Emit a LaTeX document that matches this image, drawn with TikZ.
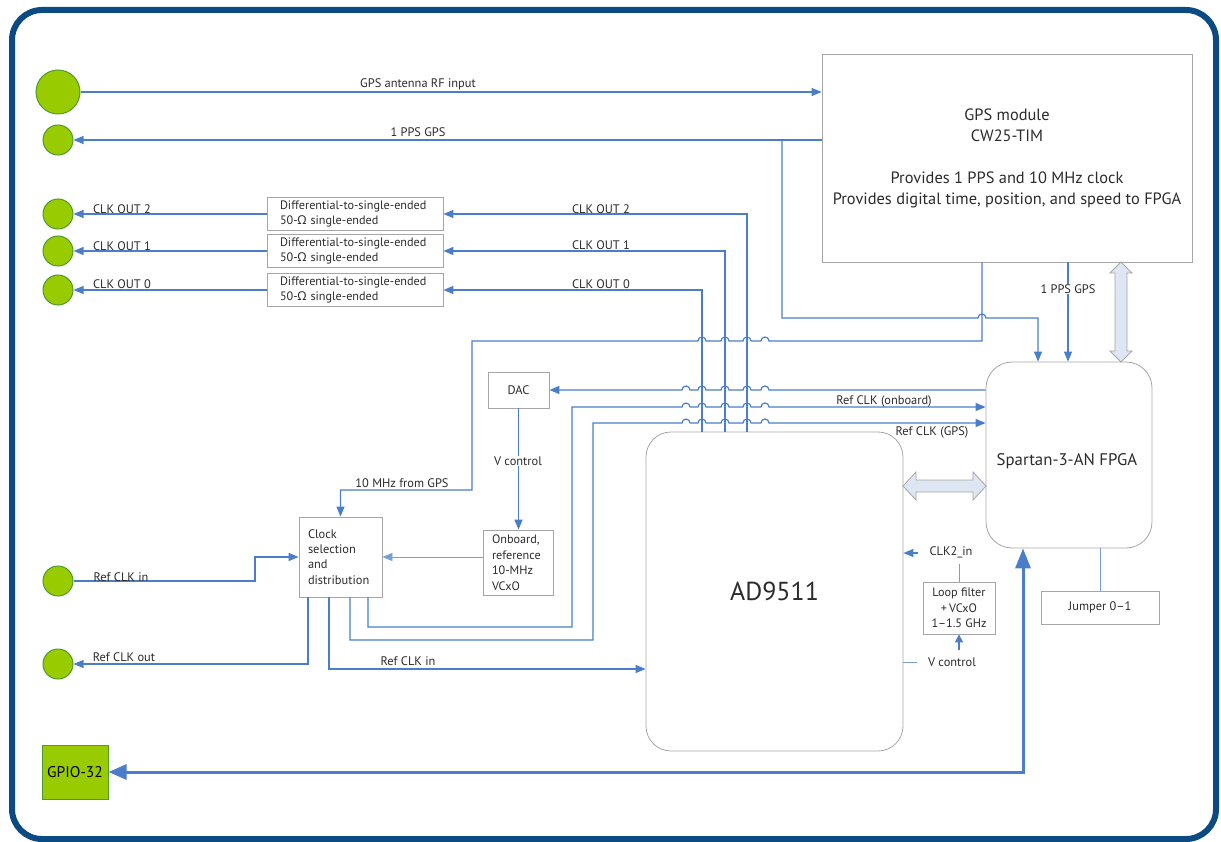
\documentclass[tikz,border=0pt]{standalone}
\usepackage{fontspec}
\setmainfont{PT Sans}
\newfontfamily\gkfont{Noto Sans}
\usetikzlibrary{arrows.meta,calc}
\definecolor{frameblue}{HTML}{0B4A82}
\definecolor{lineblue}{HTML}{4A7EC8}
\definecolor{gfill}{HTML}{99CC00}
\definecolor{gdraw}{HTML}{4E9A2E}
\definecolor{boxgray}{HTML}{A6A6A6}
\definecolor{dafill}{HTML}{DDE6F2}
\definecolor{txt}{HTML}{2B2B2B}
\begin{document}
\begin{tikzpicture}[x=1pt,y=-1pt,
  font=\fontsize{12.4}{14}\selectfont,
  lab/.style={text=txt, inner sep=1pt},
  labw/.style={lab, fill=white},
  box/.style={draw=boxgray, line width=0.8pt, text=txt, inner sep=0pt},
  jack/.style={circle, fill=gfill, draw=gdraw, line width=1pt, inner sep=0pt},
  wire/.style={draw=lineblue, line width=1.2pt},
  thinwire/.style={draw=lineblue!75, line width=0.8pt},
  arr/.style={-{Triangle[length=10pt,width=8pt]}},
  hollow/.style={fill=dafill, draw=boxgray, line width=0.8pt}
]
\useasboundingbox (0,0) rectangle (1221,842);
\draw[frameblue, line width=6pt, rounded corners=30pt] (12,10) rectangle (1216,839);

% connectors (jacks)
\node[jack, minimum size=44pt] (ant) at (58,92) {};
\node[jack, minimum size=30pt] (pps) at (58,140) {};
\node[jack, minimum size=30pt] (co2) at (58,214) {};
\node[jack, minimum size=30pt] (co1) at (58,251) {};
\node[jack, minimum size=30pt] (co0) at (58,290) {};
\node[jack, minimum size=30pt] (rin) at (58,581) {};
\node[jack, minimum size=30pt] (rout) at (58,664) {};
\node[fill=gfill, draw=gdraw, line width=1pt, minimum width=66pt, minimum height=54pt, inner sep=0pt, font=\fontsize{15.5}{15.5}\selectfont, text=black] (gpio) at (75,772) {GPIO-32};

% boxes
\node[box, minimum width=370pt, minimum height=208pt, align=center, font=\fontsize{16.4}{21}\selectfont] (gps) at (1007,158) {GPS module\\CW25-TIM\\[21pt]Provides 1 PPS and 10 MHz clock\\Provides digital time, position, and speed to FPGA};
\node[box, minimum width=176pt, minimum height=33pt, text width=150pt, align=left, font=\fontsize{12.2}{15}\selectfont] (d2) at (355,214) {Differential-to-single-ended\\50-{\gkfont Ω} single-ended};
\node[box, minimum width=176pt, minimum height=33pt, text width=150pt, align=left, font=\fontsize{12.2}{15}\selectfont] (d1) at (355,251) {Differential-to-single-ended\\50-{\gkfont Ω} single-ended};
\node[box, minimum width=176pt, minimum height=33pt, text width=150pt, align=left, font=\fontsize{12.2}{15}\selectfont] (d0) at (355,290) {Differential-to-single-ended\\50-{\gkfont Ω} single-ended};
\node[box, minimum width=83pt, minimum height=80pt, text width=65pt, align=left, font=\fontsize{12.4}{15.3}\selectfont] (cs) at (340.5,557) {Clock\\selection\\and\\distribution};
\node[box, minimum width=70pt, minimum height=65pt, text width=52pt, align=left, font=\fontsize{12.2}{15.5}\selectfont] (vco) at (518,562.5) {Onboard,\\reference\\10-MHz\\VCxO};
\node[box, minimum width=61pt, minimum height=36pt] (dac) at (518.5,390) {DAC};
\node[box, rounded corners=25pt, minimum width=257pt, minimum height=319pt, font=\fontsize{26}{26}\selectfont] (ad) at (774.5,591.5) {AD9511};
\node[box, rounded corners=26pt, minimum width=166pt, minimum height=186pt] (fpga) at (1069,455) {};
\node[lab, font=\fontsize{16.8}{17}\selectfont] (fpgat) at (1067,461) {Spartan-3-AN FPGA};
\node[box, minimum width=118pt, minimum height=33pt] (jmp) at (1100,607.5) {Jumper 0–1};
\node[box, minimum width=72pt, minimum height=52pt, align=center, font=\fontsize{12.2}{15.5}\selectfont] (loop) at (959,608) {Loop filter\\+\,VCxO\\1–1.5 GHz};

% GPS antenna and 1 PPS
\draw[wire, arr] (ant) -- (ant -| gps.west);
\draw[wire, arr] (gps.west |- pps) -- (pps);
\coordinate (pb) at (782,140);
\coordinate (p1) at (1038,318);
\draw[wire, arr] (pb) -- (782,318) -- (978,318) arc[start angle=180,end angle=0,radius=4pt] -- (p1) -- (p1 |- fpga.north);

% 10 MHz from GPS
\coordinate (g10) at (982,341);
\coordinate (m0) at (472,341);
\coordinate (m1) at (472,490);
\draw[wire, arr] (g10 |- gps.south) -- (g10)
  -- (769,341) arc[start angle=0,end angle=180,radius=4pt]
  -- (751,341) arc[start angle=0,end angle=180,radius=4pt]
  -- (729,341) arc[start angle=0,end angle=180,radius=4pt]
  -- (706,341) arc[start angle=0,end angle=180,radius=4pt]
  -- (m0) -- (m1) -- (m1 -| cs.north) -- (cs.north);

% CLK OUT lines
\coordinate (c2) at (747,214);
\coordinate (c1) at (725,251);
\coordinate (c0) at (702,290);
\draw[wire, arr] (c2 |- ad.north) -- (c2) -- (d2.east);
\draw[wire, arr] (c1 |- ad.north) -- (c1) -- (d1.east);
\draw[wire, arr] (c0 |- ad.north) -- (c0) -- (d0.east);
\draw[wire, arr] (d2) -- (co2);
\draw[wire, arr] (d1) -- (co1);
\draw[wire, arr] (d0) -- (co0);

% FPGA -> DAC
\draw[wire, arr] (fpga.west |- dac)
  -- (769,390) arc[start angle=0,end angle=180,radius=4pt]
  -- (751,390) arc[start angle=0,end angle=180,radius=4pt]
  -- (729,390) arc[start angle=0,end angle=180,radius=4pt]
  -- (706,390) arc[start angle=0,end angle=180,radius=4pt]
  -- (690,390) arc[start angle=0,end angle=180,radius=4pt]
  -- (dac.east);

% Ref CLK (onboard)
\coordinate (o1) at (368,627);
\coordinate (o2) at (572,407);
\draw[wire, arr] (o1 |- cs.south) -- (o1) -- (o1 -| o2) -- (o2)
  -- (682,407) arc[start angle=180,end angle=0,radius=4pt]
  -- (698,407) arc[start angle=180,end angle=0,radius=4pt]
  -- (721,407) arc[start angle=180,end angle=0,radius=4pt]
  -- (743,407) arc[start angle=180,end angle=0,radius=4pt]
  -- (761,407) arc[start angle=180,end angle=0,radius=4pt]
  -- (o2 -| fpga.west);

% Ref CLK (GPS)
\coordinate (q1) at (350,640);
\coordinate (q2) at (593,423);
\draw[wire, arr] (q1 |- cs.south) -- (q1) -- (q1 -| q2) -- (q2)
  -- (682,423) arc[start angle=180,end angle=0,radius=4pt]
  -- (698,423) arc[start angle=180,end angle=0,radius=4pt]
  -- (721,423) arc[start angle=180,end angle=0,radius=4pt]
  -- (743,423) arc[start angle=180,end angle=0,radius=4pt]
  -- (761,423) arc[start angle=180,end angle=0,radius=4pt]
  -- (q2 -| fpga.west);

% clock selection in / out
\coordinate (r1) at (308,664);
\coordinate (r2) at (329,669);
\coordinate (r3) at (255,581);
\draw[wire, arr] (r1 |- cs.south) -- (r1) -- (rout);
\draw[wire, arr] (r2 |- cs.south) -- (r2) -- (r2 -| ad.west);
\draw[wire, arr] (rin) -- (r3) -- (r3 |- cs) -- (cs.west);
\draw[thinwire, arr] (vco.west |- cs) -- (cs.east);
\draw[wire, arr] (dac.south) -- (dac.south |- vco.north);

% 1 PPS GPS to FPGA
\coordinate (v1) at (1068,300);
\draw[wire, arr] (v1 |- gps.south) -- (v1 |- fpga.north);

% GPIO bus
\coordinate (gp) at (1023,772);
\draw[line width=3pt, lineblue, {Triangle[length=18pt,width=15pt]}-{Triangle[length=20pt,width=15pt]}] (gpio.east) -- (gp) -- (gp |- fpga.south);

% jumper
\draw[thinwire] (jmp.north) -- (jmp.north |- fpga.south);

% loop filter
\coordinate (lf) at (959,564);
\draw[thinwire] (loop.north) -- (lf);
\coordinate (ck) at (918,553);
\draw[wire, arr] (ck) -- (ck -| ad.east);
\coordinate (vc) at (917,662);
\draw[thinwire] (vc -| ad.east) -- (vc);
\coordinate (va) at (959,650);
\draw[wire, -{Triangle[length=8pt,width=8pt]}] (va) -- (loop.south);

% hollow double arrows
\coordinate (hL) at (903,486);
\coordinate (hR) at (986,486);
\draw[hollow] (hL) -- ++(13,-14) -- ++(0,8) -- ($(hR)+(-13,-6)$) -- ++(0,-8) -- (hR) -- ++(-13,14) -- ++(0,-8) -- ($(hL)+(13,6)$) -- ++(0,8) -- cycle;
\coordinate (vT) at (1121,262);
\coordinate (vB) at (1121,362);
\draw[hollow] (vT) -- ++(11,11) -- ++(-5,0) -- ($(vB)+(6,-11)$) -- ++(5,0) -- (vB) -- ++(-11,-11) -- ++(5,0) -- ($(vT)+(-6,11)$) -- ++(-5,0) -- cycle;

% labels
\node[lab] (l1) at (418,84) {GPS antenna RF input};
\node[lab] (l2) at (418,132) {1 PPS GPS};
\node[lab] (l3) at (122,209) {CLK OUT 2};
\node[lab] (l4) at (122,246) {CLK OUT 1};
\node[lab] (l5) at (122,284) {CLK OUT 0};
\node[lab] (l6) at (601,209) {CLK OUT 2};
\node[lab] (l7) at (601,245) {CLK OUT 1};
\node[lab] (l8) at (601,284) {CLK OUT 0};
\node[lab] (l9) at (402,483) {10 MHz from GPS};
\node[labw] (l10) at (518,461) {V control};
\node[lab] (l11) at (121,577) {Ref CLK in};
\node[lab] (l12) at (124,657) {Ref CLK out};
\node[lab] (l13) at (408,661) {Ref CLK in};
\node[lab] (l14) at (884,401) {Ref CLK (onboard)};
\node[lab] (l15) at (932,432) {Ref CLK (GPS)};
\node[labw] (l16) at (1068,289) {1 PPS GPS};
\node[lab] (l17) at (951,552) {CLK2\_in};
\node[lab] (l18) at (952,662) {V control};
\end{tikzpicture}
\end{document}
